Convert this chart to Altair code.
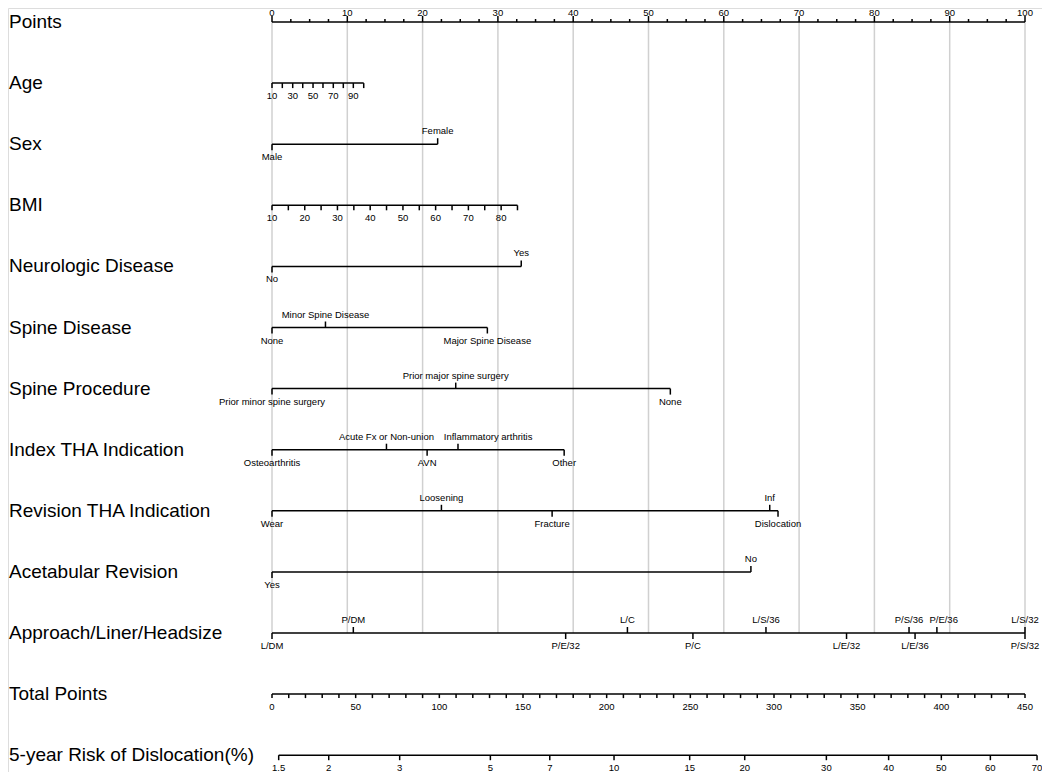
import altair as alt
import pandas as pd

# ---------------- data ----------------
ROW_TITLES = ["Points", "Age", "Sex", "BMI", "Neurologic Disease", "Spine Disease",
              "Spine Procedure", "Index THA Indication", "Revision THA Indication",
              "Acetabular Revision", "Approach/Liner/Headsize", "Total Points",
              "5-year Risk of Dislocation(%)"]

POINTS_MAJOR = [0, 10, 20, 30, 40, 50, 60, 70, 80, 90, 100]
POINTS_MINOR = [2.5 * i for i in range(41) if i % 4 != 0]

AGE_TICKS = [10, 20, 30, 40, 50, 60, 70, 80, 90, 100]
AGE_POINTS = [0, 1.37, 2.75, 4.08, 5.45, 6.77, 8.14, 9.47, 10.80, 12.18]
AGE_LABELED = [10, 30, 50, 70, 90]

BMI_TICKS = [10, 15, 20, 25, 30, 35, 40, 45, 50, 55, 60, 65, 70, 75, 80, 85]
BMI_POINTS = [0, 2.17, 4.35, 6.52, 8.69, 10.87, 13.04, 15.21, 17.39, 19.56,
              21.73, 23.91, 26.08, 28.25, 30.43, 32.6]
BMI_LABELED = [10, 20, 30, 40, 50, 60, 70, 80]

SEX_LEVELS = ["Male", "Female"]
SEX_POINTS = [0, 22.0]
SEX_SIDE = ["below", "above"]

NEURO_LEVELS = ["No", "Yes"]
NEURO_POINTS = [0, 33.1]
NEURO_SIDE = ["below", "above"]

SPINE_DIS_LEVELS = ["None", "Minor Spine Disease", "Major Spine Disease"]
SPINE_DIS_POINTS = [0, 7.1, 28.6]
SPINE_DIS_SIDE = ["below", "above", "below"]

SPINE_PROC_LEVELS = ["Prior minor spine surgery", "Prior major spine surgery", "None"]
SPINE_PROC_POINTS = [0, 24.4, 52.9]
SPINE_PROC_SIDE = ["below", "above", "below"]

INDEX_LEVELS = ["Osteoarthritis", "Acute Fx or Non-union", "AVN",
                "Inflammatory arthritis", "Other"]
INDEX_POINTS = [0, 15.2, 20.6, 24.7, 38.8]
INDEX_LABEL_AT = [0, 15.2, 20.6, 28.7, 38.8]   # label shifted to avoid overlap
INDEX_SIDE = ["below", "above", "below", "above", "below"]

REVISION_LEVELS = ["Wear", "Loosening", "Fracture", "Inf", "Dislocation"]
REVISION_POINTS = [0, 22.5, 37.2, 66.1, 67.2]
REVISION_SIDE = ["below", "above", "below", "above", "below"]

ACETAB_LEVELS = ["Yes", "No"]
ACETAB_POINTS = [0, 63.6]
ACETAB_SIDE = ["below", "above"]

APPROACH_LEVELS = ["L/DM", "P/DM", "P/E/32", "L/C", "P/C", "L/S/36", "L/E/32",
                   "P/S/36", "L/E/36", "P/E/36", "L/S/32", "P/S/32"]
APPROACH_POINTS = [0, 10.8, 39.0, 47.2, 55.9, 65.6, 76.3, 84.6, 85.4, 88.3, 100, 100]
APPROACH_LABEL_AT = [0, 10.8, 39.0, 47.2, 55.9, 65.6, 76.3, 84.6, 85.4, 89.2, 100, 100]
APPROACH_SIDE = ["below", "above", "below", "above", "below", "above", "below",
                 "above", "below", "above", "above", "below"]

TOTAL_TICKS = list(range(0, 451, 10))
TOTAL_LABELED = list(range(0, 451, 50))
TOTAL_MAX = 450

RISK_LABELS = ["1.5", "2", "3", "5", "7", "10", "15", "20", "30", "40", "50", "60", "70"]
RISK_TOTAL_POINTS = [4.0, 33.9, 76.3, 130.5, 166.0, 204.4, 249.6, 282.5, 331.3,
                     368.5, 400.0, 429.3, 457.2]

# ---------------- layout constants ----------------
ROW_PX = 61.1
W, H = 1034, 764
PX_PER_POINT = 7.53
X0 = -(272 - 8) / PX_PER_POINT
X_DOMAIN = [X0, X0 + W / PX_PER_POINT]
Y0 = -14 / ROW_PX
Y_DOMAIN = [Y0, Y0 + H / ROW_PX]

segs, ticks, above, below, top_labels = [], [], [], [], []


def tick(x, row, length, up):
    d = length / ROW_PX
    ticks.append({"x": x, "y": row, "y2": row - d if up else row + d})


# Points axis (row 0)
segs.append({"x": 0, "x2": 100, "y": 0})
for v in POINTS_MAJOR:
    tick(v, 0, 6, True)
    top_labels.append({"x": v, "y": 0, "text": str(v)})
for v in POINTS_MINOR:
    tick(v, 0, 3, True)

# Age (row 1)
segs.append({"x": AGE_POINTS[0], "x2": AGE_POINTS[-1], "y": 1})
for t, p in zip(AGE_TICKS, AGE_POINTS):
    tick(p, 1, 5, False)
    if t in AGE_LABELED:
        below.append({"x": p, "y": 1, "text": str(t)})

# BMI (row 3)
segs.append({"x": BMI_POINTS[0], "x2": BMI_POINTS[-1], "y": 3})
for t, p in zip(BMI_TICKS, BMI_POINTS):
    tick(p, 3, 5, False)
    if t in BMI_LABELED:
        below.append({"x": p, "y": 3, "text": str(t)})

# categorical rows
CATS = [(2, SEX_LEVELS, SEX_POINTS, SEX_POINTS, SEX_SIDE),
        (4, NEURO_LEVELS, NEURO_POINTS, NEURO_POINTS, NEURO_SIDE),
        (5, SPINE_DIS_LEVELS, SPINE_DIS_POINTS, SPINE_DIS_POINTS, SPINE_DIS_SIDE),
        (6, SPINE_PROC_LEVELS, SPINE_PROC_POINTS, SPINE_PROC_POINTS, SPINE_PROC_SIDE),
        (7, INDEX_LEVELS, INDEX_POINTS, INDEX_LABEL_AT, INDEX_SIDE),
        (8, REVISION_LEVELS, REVISION_POINTS, REVISION_POINTS, REVISION_SIDE),
        (9, ACETAB_LEVELS, ACETAB_POINTS, ACETAB_POINTS, ACETAB_SIDE),
        (10, APPROACH_LEVELS, APPROACH_POINTS, APPROACH_LABEL_AT, APPROACH_SIDE)]
for row, levels, pts, lab_at, sides in CATS:
    segs.append({"x": min(pts), "x2": max(pts), "y": row})
    for lev, p, lx, s in zip(levels, pts, lab_at, sides):
        tick(p, row, 6, s == "above")
        (above if s == "above" else below).append({"x": lx, "y": row, "text": lev})

# Total points (row 11)
scale_tp = 100 / TOTAL_MAX
segs.append({"x": 0, "x2": TOTAL_TICKS[-1] * scale_tp, "y": 11})
for t in TOTAL_TICKS:
    tick(t * scale_tp, 11, 4, False)
    if t in TOTAL_LABELED:
        below.append({"x": t * scale_tp, "y": 11, "text": str(t)})

# Risk (row 12)
segs.append({"x": RISK_TOTAL_POINTS[0] * scale_tp, "x2": RISK_TOTAL_POINTS[-1] * scale_tp, "y": 12})
for lab, tp in zip(RISK_LABELS, RISK_TOTAL_POINTS):
    tick(tp * scale_tp, 12, 5, False)
    below.append({"x": tp * scale_tp, "y": 12, "text": lab})

grid = pd.DataFrame({"x": POINTS_MAJOR, "y": [0] * len(POINTS_MAJOR), "y2": [10] * len(POINTS_MAJOR)})
titles = pd.DataFrame({"title": ROW_TITLES, "y": list(range(len(ROW_TITLES)))})

xs = alt.Scale(domain=X_DOMAIN, nice=False, zero=False)
ys = alt.Scale(domain=Y_DOMAIN, nice=False, zero=False, reverse=True)
X = lambda f="x": alt.X(f"{f}:Q", scale=xs, axis=None)
Y = lambda f="y": alt.Y(f"{f}:Q", scale=ys, axis=None)

FONT = "Liberation Sans"

grid_layer = alt.Chart(grid).mark_rule(color="#d0d0d0", strokeWidth=1.5).encode(
    x=X(), y=Y(), y2="y2:Q")
seg_layer = alt.Chart(pd.DataFrame(segs)).mark_rule(color="black", strokeWidth=1.5).encode(
    x=X(), x2="x2:Q", y=Y())
tick_layer = alt.Chart(pd.DataFrame(ticks)).mark_rule(color="black", strokeWidth=1.5).encode(
    x=X(), y=Y(), y2="y2:Q")
top_layer = alt.Chart(pd.DataFrame(top_labels)).mark_text(
    font=FONT, fontSize=9.5, color="black", align="center", baseline="middle", dy=-9.5
).encode(x=X(), y=Y(), text="text:N")
above_layer = alt.Chart(pd.DataFrame(above)).mark_text(
    font=FONT, fontSize=9.5, color="black", align="center", baseline="middle", dy=-13
).encode(x=X(), y=Y(), text="text:N")
below_layer = alt.Chart(pd.DataFrame(below)).mark_text(
    font=FONT, fontSize=9.5, color="black", align="center", baseline="middle", dy=13
).encode(x=X(), y=Y(), text="text:N")
title_layer = alt.Chart(titles).mark_text(
    font=FONT, fontSize=19, color="black", align="left", baseline="middle"
).encode(x=alt.value(1), y=Y(), text="title:N")

chart = alt.layer(grid_layer, seg_layer, tick_layer, top_layer, above_layer, below_layer,
                  title_layer).properties(
    width=W, height=H, autosize="none", padding=0
).configure_view(stroke=None).configure(background="white")

chart.save("out.html", embed_options={"renderer": "svg", "actions": False})
